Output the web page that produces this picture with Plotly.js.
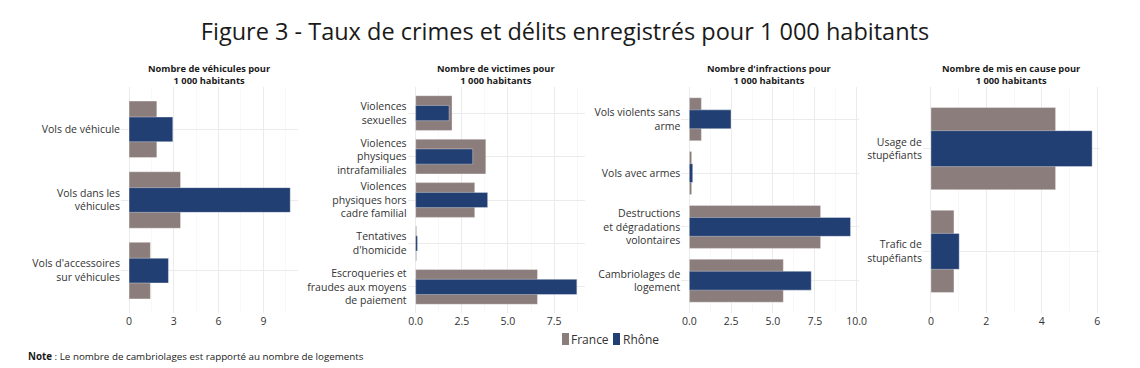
<!DOCTYPE html>
<html>
<head>
<meta charset="utf-8">
<script src="https://cdn.plot.ly/plotly-3.0.1.min.js"></script>
<style>html,body{margin:0;padding:0;background:#fff;} #chart{width:1140px;height:368px;}</style>
</head>
<body>
<div id="chart"></div>
<script>
// ---- Data ----
const cat1 = ["Vols de véhicule", "Vols dans les<br>véhicules", "Vols d'accessoires<br>sur véhicules"];
const france1 = [1.86, 3.45, 1.43];
const rhone1 = [2.93, 10.8, 2.64];

const cat2 = ["Violences<br>sexuelles", "Violences<br>physiques<br>intrafamiliales", "Violences<br>physiques hors<br>cadre familial", "Tentatives<br>d'homicide", "Escroqueries et<br>fraudes aux moyens<br>de paiement"];
const france2 = [1.97, 3.80, 3.20, 0.05, 6.60];
const rhone2 = [1.81, 3.09, 3.90, 0.10, 8.73];

const cat3 = ["Vols violents sans<br>arme", "Vols avec armes", "Destructions<br>et dégradations<br>volontaires", "Cambriolages de<br>logement"];
const france3 = [0.72, 0.14, 7.85, 5.62];
const rhone3 = [2.49, 0.20, 9.64, 7.29];

const cat4 = ["Usage de<br>stupéfiants", "Trafic de<br>stupéfiants"];
const france4 = [4.50, 0.83];
const rhone4 = [5.82, 1.02];

const panelTitles = ["Nombre de véhicules pour<br>1 000 habitants", "Nombre de victimes pour<br>1 000 habitants", "Nombre d'infractions pour<br>1 000 habitants", "Nombre de mis en cause pour<br>1 000 habitants"];
const majorDtick = [3, 2.5, 2.5, 2];
const tickFormats = ["d", ".1f", ".1f", "d"];
const seriesNames = ["France", "Rhône"];

// ---- Style ----
const FONT = "'Open Sans', Lato, sans-serif";
const GREY = "#8b7d7b";
const BLUE = "#213f73";
const W = 1140, H = 368;
const panelLeft = [121, 407.6, 681.3, 922.9];
const panelWidth = 177.3;
const yTop = 87, yBot = 313;

const cats = [cat1, cat2, cat3, cat4];
const frs = [france1, france2, france3, france4];
const rhs = [rhone1, rhone2, rhone3, rhone4];

const traces = [];
const layout = {
  width: W, height: H,
  margin: {l: 0, r: 0, t: 0, b: 0},
  paper_bgcolor: "#fff", plot_bgcolor: "#fff",
  barmode: "overlay",
  showlegend: false,
  font: {family: FONT, color: "#333"},
  title: {text: "Figure 3 - Taux de crimes et délits enregistrés pour 1 000 habitants",
          font: {family: FONT, size: 23.5, color: "#1a1a1a"},
          x: 565/W, xanchor: "center", xref: "paper", yref: "container", y: 1 - 32/H, yanchor: "middle"},
  annotations: [], shapes: []
};

for (let i = 0; i < 4; i++) {
  const sfx = i === 0 ? "" : String(i + 1);
  const xa = "x" + sfx, ya = "y" + sfx;
  traces.push({type: "bar", orientation: "h", name: seriesNames[0], x: frs[i], y: cats[i], xaxis: xa, yaxis: ya,
    width: 0.8, marker: {color: GREY, line: {color: "rgba(255,255,255,0.35)", width: 1}}, hoverinfo: "x+y"});
  traces.push({type: "bar", orientation: "h", name: seriesNames[1], x: rhs[i], y: cats[i], xaxis: xa, yaxis: ya,
    width: 0.35, marker: {color: BLUE, line: {color: "rgba(255,255,255,0.35)", width: 1}}, hoverinfo: "x+y"});
  const mx = Math.max(...frs[i], ...rhs[i]);
  const n = cats[i].length;
  layout["xaxis" + sfx] = {
    domain: [panelLeft[i] / W, (panelLeft[i] + panelWidth) / W],
    range: [-0.05 * mx, 1.05 * mx],
    anchor: ya, tickmode: "linear", tick0: 0, dtick: majorDtick[i], tickformat: tickFormats[i],
    showgrid: true, gridcolor: "#ebebeb", gridwidth: 1, zeroline: false, showline: false, ticks: "",
    tickfont: {family: FONT, size: 10.5, color: "#333"},
    minor: {dtick: majorDtick[i] / 2, tick0: 0, showgrid: true, gridcolor: "#f3f3f3", gridwidth: 0.6, ticks: ""},
    fixedrange: true
  };
  layout["yaxis" + sfx] = {
    domain: [(H - yBot) / H, (H - yTop) / H],
    type: "category", categoryorder: "array", categoryarray: cats[i],
    range: [n - 0.4, -0.6], anchor: xa,
    showgrid: true, gridcolor: "#ebebeb", gridwidth: 1, zeroline: false, showline: false, ticks: "",
    tickfont: {family: FONT, size: 10.5, color: "#333"},
    fixedrange: true
  };
  layout.annotations.push({text: "<b>" + panelTitles[i] + "</b>", xref: xa + " domain", yref: "paper",
    x: 0.5, xanchor: "center", y: (H - 74) / H, yanchor: "middle", showarrow: false,
    font: {family: FONT, size: 9.3, color: "#1a1a1a"}});
}

// legend (manual)
layout.shapes.push({type: "rect", xref: "paper", yref: "paper", x0: 562/W, x1: 569/W, y0: (H-345)/H, y1: (H-333)/H, fillcolor: GREY, line: {width: 0}});
layout.shapes.push({type: "rect", xref: "paper", yref: "paper", x0: 613/W, x1: 620/W, y0: (H-345)/H, y1: (H-333)/H, fillcolor: BLUE, line: {width: 0}});
layout.annotations.push({text: seriesNames[0], xref: "paper", yref: "paper", x: 571.5/W, xanchor: "left", y: (H-339)/H, yanchor: "middle", showarrow: false, font: {family: FONT, size: 12, color: "#333"}, xshift: -2});
layout.annotations.push({text: seriesNames[1], xref: "paper", yref: "paper", x: 622.5/W, xanchor: "left", y: (H-339)/H, yanchor: "middle", showarrow: false, font: {family: FONT, size: 12, color: "#333"}, xshift: -2});
// note
layout.annotations.push({text: "<b>Note</b> : Le nombre de cambriolages est rapporté au nombre de logements", xref: "paper", yref: "paper",
  x: 28/W, xanchor: "left", y: (H-356)/H, yanchor: "middle", showarrow: false, font: {family: FONT, size: 9.8, color: "#1a1a1a"}, xshift: -2});

Plotly.newPlot("chart", traces, layout, {displayModeBar: false, staticPlot: true});
</script>
</body>
</html>
